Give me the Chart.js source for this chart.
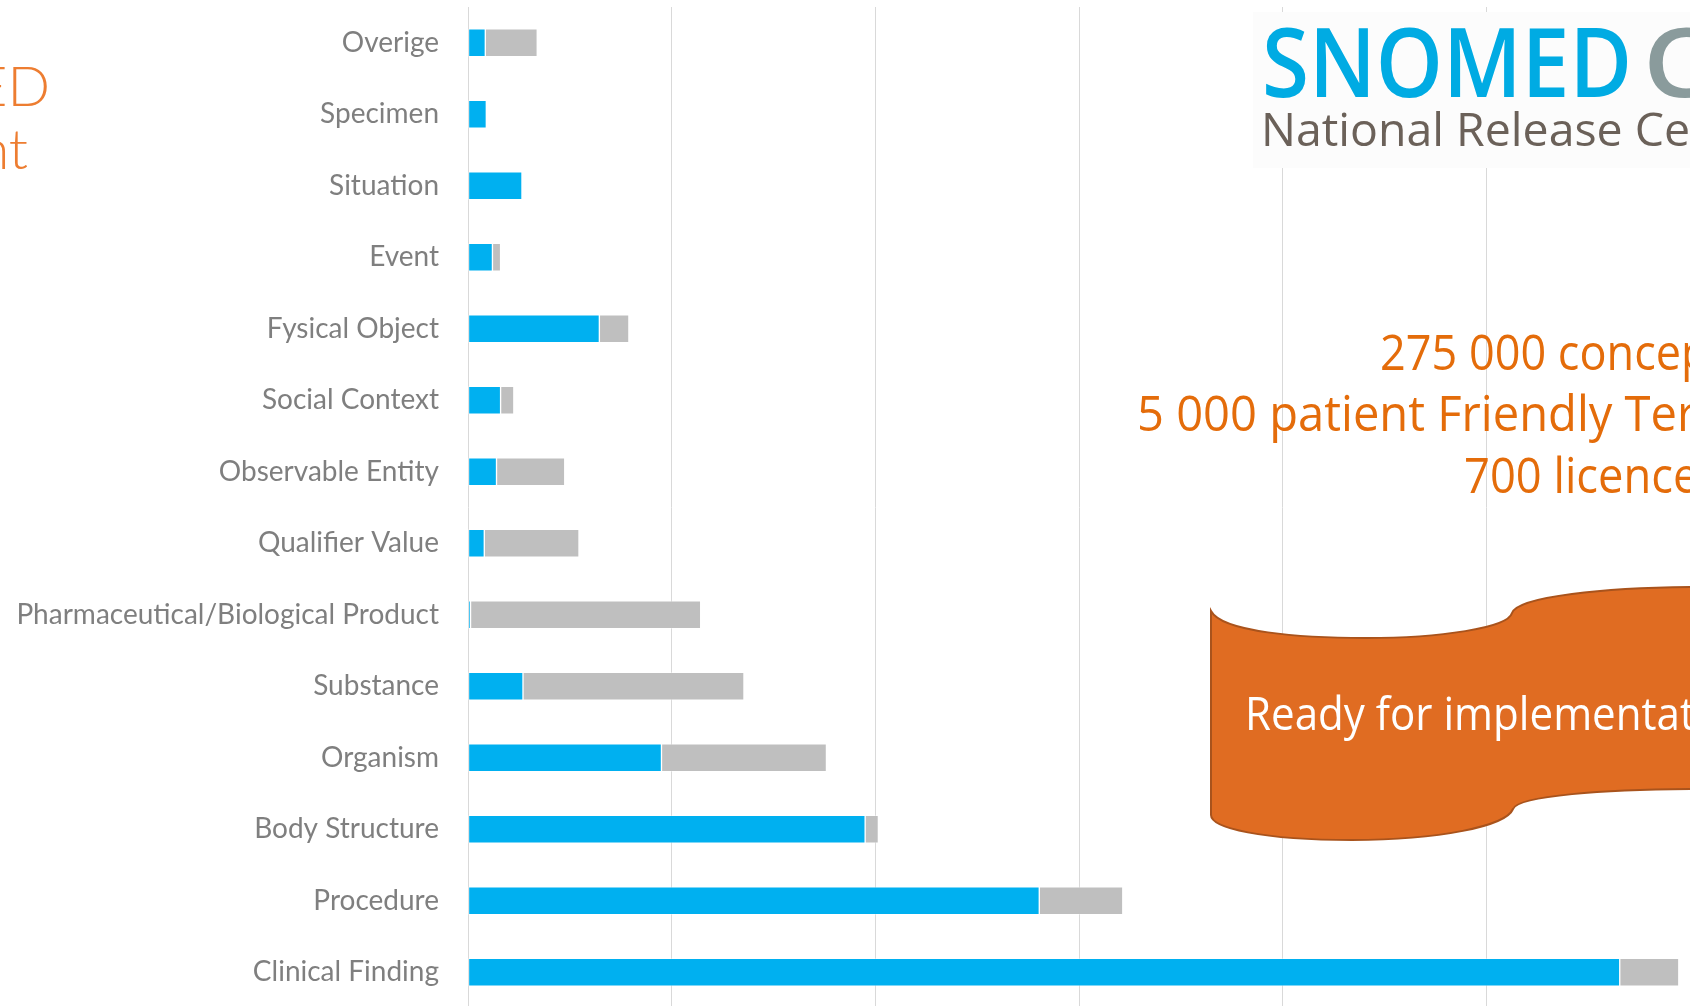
<!DOCTYPE html>
<html>
<head>
<meta charset="utf-8">
<script src="https://cdn.jsdelivr.net/npm/chart.js@4/dist/chart.umd.min.js"></script>
<style>
  html, body { margin: 0; padding: 0; background: #fff; overflow: hidden; }
  #wrap { position: absolute; left: 0; top: 0; width: 1690px; height: 1008px; }
</style>
</head>
<body>
<div id="wrap"><canvas id="chart" width="1690" height="1008"></canvas></div>
<script>
// Kategorien (von oben nach unten)
const categories = ['Overige', 'Specimen', 'Situation', 'Event', 'Fysical Object', 'Social Context',
    'Observable Entity', 'Qualifier Value', 'Pharmaceutical/Biological Product', 'Substance',
    'Organism', 'Body Structure', 'Procedure', 'Clinical Finding'];
// blauer Teil
const blueValues = [1700, 1800, 5300, 2400, 12900, 3200, 2800, 1600, 250, 5400, 19000, 39000, 56100, 113100];
// grauer Rest
const greyValues = [5100, 0, 0, 800, 2900, 1300, 6700, 9300, 22600, 21700, 16200, 1300, 8200, 5800];
const axisMax = 120000;
const axisStep = 20000;

// Text so strecken, dass "prefix" von x0 bis x1 reicht
function fitText(ctx, text, prefix, x0, x1, y) {
    const sx = (x1 - x0) / ctx.measureText(prefix).width;
    ctx.save();
    ctx.translate(x0, y);
    ctx.scale(sx, 1);
    ctx.fillText(text, 0, 0);
    ctx.restore();
}

//Folie: Logo, Texte, Banner
const slideOverlay = {
    id: 'slideOverlay',
    afterDraw(chart) {
        const ctx = chart.ctx;
        ctx.save();
        ctx.textBaseline = 'alphabetic';

        // Titel links (abgeschnitten)
        ctx.fillStyle = '#ED7D31';
        ctx.textAlign = 'right';
        ctx.font = '300 56px Lato';
        ctx.fillText('SNOMED', 50, 106);
        ctx.fillText('Content', 28, 169);

        // Logo
        ctx.textAlign = 'left';
        ctx.fillStyle = '#fcfcfc';
        ctx.fillRect(1253, 12, 460, 156);
        ctx.fillStyle = '#00ABE3';
        ctx.font = '600 96px "Open Sans"';
        fitText(ctx, 'SNOMED', 'SNOMED', 1262, 1632, 97);
        ctx.fillStyle = '#8A9B9C';
        fitText(ctx, 'CT', 'C', 1643, 1712, 97);
        ctx.fillStyle = '#6B6159';
        ctx.font = '46px "Open Sans"';
        fitText(ctx, 'National Release Centre', 'National Release C', 1261, 1664, 146);

        // Zahlen
        ctx.fillStyle = '#E46C0A';
        ctx.font = '50px "Open Sans"';
        fitText(ctx, '275 000 concepts', '275 000 conce', 1380, 1681, 370);
        fitText(ctx, '5 000 patient Friendly Terms', '5 000 patient Friendly Te', 1137, 1677, 431);
        fitText(ctx, '700 licences', '700 licenc', 1464, 1673, 493);

        // Banner
        ctx.beginPath();
        ctx.moveTo(1211, 611);
        ctx.bezierCurveTo(1222, 632, 1300, 638, 1366, 638);
        ctx.bezierCurveTo(1440, 638, 1508, 628, 1512, 613);
        ctx.bezierCurveTo(1518, 597, 1600, 587, 1710, 587);
        ctx.lineTo(1710, 789);
        ctx.bezierCurveTo(1600, 789, 1518, 796, 1513, 809);
        ctx.bezierCurveTo(1506, 826, 1440, 840, 1352, 840);
        ctx.bezierCurveTo(1262, 840, 1211, 828, 1211, 815);
        ctx.closePath();
        ctx.fillStyle = '#E06C22';
        ctx.fill();
        ctx.lineWidth = 2;
        ctx.strokeStyle = '#A9531C';
        ctx.stroke();

        ctx.fillStyle = '#ffffff';
        ctx.font = '46px "Open Sans"';
        fitText(ctx, 'Ready for implementation', 'Ready for implementa', 1245, 1680, 730);

        ctx.restore();
    }
};

const el = document.getElementById('chart');
new Chart(el, {
    type: 'bar',
    data: {
        labels: categories,
        datasets: [{
            data: blueValues,
            backgroundColor: '#00B0F0',
            borderColor: 'rgba(255, 255, 255, 0.35)',
            borderWidth: 1,
            borderSkipped: false,
            barThickness: 28
        }, {
            data: greyValues,
            backgroundColor: '#BFBFBF',
            borderColor: 'rgba(255, 255, 255, 0.35)',
            borderWidth: 1,
            borderSkipped: false,
            barThickness: 28
        }]
    },
    options: {
        indexAxis: 'y',
        responsive: false,
        animation: false,
        layout: { padding: { top: 7, left: 0, right: 0, bottom: 0 } },
        plugins: {
            legend: { display: false },
            tooltip: { enabled: false }
        },
        scales: {
            x: {
                stacked: true,
                min: 0,
                max: axisMax,
                ticks: { display: false, stepSize: axisStep },
                grid: { color: '#D9D9D9', lineWidth: 1, drawTicks: false },
                border: { display: false },
                afterFit(scale) {
                    scale.height = 0;
                    scale.paddingLeft = 0;
                    scale.paddingRight = 0;
                }
            },
            y: {
                stacked: true,
                afterFit(scale) {
                    scale.width = 468;
                    scale.paddingTop = 0;
                    scale.paddingBottom = 0;
                },
                ticks: {
                    color: '#7F7F7F',
                    padding: 29,
                    font: { family: 'Lato', size: 28 }
                },
                grid: { display: false, drawTicks: false },
                border: { display: false }
            }
        }
    },
    plugins: [slideOverlay]
});
</script>
</body>
</html>
